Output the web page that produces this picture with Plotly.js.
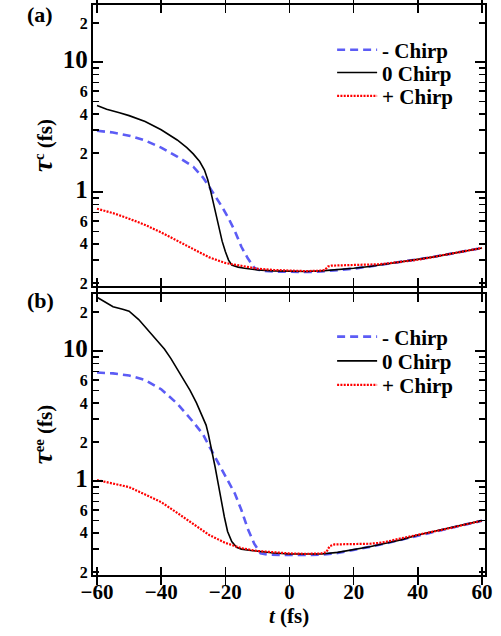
<!DOCTYPE html>
<html><head><meta charset="utf-8">
<script src="https://cdn.plot.ly/plotly-3.0.1.min.js"></script>
<style>html,body{margin:0;padding:0;background:#fff}#chart{width:501px;height:636px}</style>
</head><body><div id="chart"></div>
<script>
// ---- Panel (a): tau^c ----
const tA_neg = [-60,-55,-50,-45,-40,-35,-30,-27,-25,-23,-21,-19,-17,-15,-13,-11,-9,-5,0,5,10,15,20,25,30,35,40,45,50,55,60];
const vA_neg = [2.97,2.88,2.72,2.5,2.2,1.88,1.57,1.3,1.1,0.93,0.77,0.63,0.5,0.38,0.31,0.262,0.249,0.245,0.243,0.243,0.245,0.25,0.258,0.268,0.28,0.29,0.302,0.318,0.335,0.352,0.372];
const tA_zero = [-60,-57,-53,-50,-45,-40,-35,-32,-30,-28,-26.5,-25.5,-24.5,-23.5,-22.2,-21,-20,-19,-18,-16,-14,-10,-5,0,5,10,15,20,25,30,35,40,45,50,55,60];
const vA_zero = [4.65,4.35,4.08,3.88,3.5,3.02,2.52,2.2,1.97,1.72,1.48,1.25,1.0,0.78,0.55,0.42,0.35,0.3,0.275,0.265,0.26,0.252,0.248,0.245,0.245,0.248,0.253,0.26,0.268,0.28,0.29,0.302,0.318,0.335,0.352,0.372];
const tA_pos = [-60,-55,-50,-45,-40,-35,-30,-25,-20,-15,-10,-5,0,5,10,11,12,13,15,20,25,28,31,35,40,45,50,55,60];
const vA_pos = [0.745,0.69,0.625,0.56,0.49,0.425,0.365,0.315,0.285,0.27,0.258,0.252,0.248,0.247,0.249,0.252,0.268,0.272,0.273,0.274,0.276,0.279,0.284,0.291,0.302,0.318,0.335,0.352,0.372];

// ---- Panel (b): tau^ee ----
const tB_neg = [-60,-55,-50,-45,-40,-35,-30,-27,-25,-23,-21,-19,-17,-15,-13,-11,-9,-7,-4,0,5,10,15,20,25,30,35,40,45,50,55,60];
const vB_neg = [6.85,6.75,6.5,6.0,5.1,3.95,2.85,2.3,1.85,1.5,1.2,1.0,0.8,0.6,0.43,0.33,0.278,0.272,0.27,0.27,0.27,0.272,0.28,0.294,0.312,0.332,0.355,0.384,0.41,0.435,0.465,0.495];
const tB_zero = [-60,-57,-55,-52,-50,-47,-44,-41,-39,-37,-35,-33,-31,-29,-27.5,-26,-25.3,-24.2,-23.2,-22.2,-21.3,-20.3,-19.3,-18,-16.5,-15,-12,-9,-5,0,5,10,15,20,25,30,35,40,45,50,55,60];
const vB_zero = [26,23.5,22,21,20.3,17.5,14.3,11.8,10.4,8.8,7.3,6.1,5.0,4.0,3.3,2.7,2.3,1.75,1.29,0.95,0.7,0.53,0.41,0.343,0.31,0.3,0.293,0.287,0.28,0.275,0.274,0.275,0.283,0.296,0.313,0.333,0.355,0.385,0.41,0.435,0.465,0.497];
const tB_pos = [-60,-55,-50,-45,-40,-35,-30,-25,-20,-15,-10,-5,0,5,10,11.5,12.5,14,20,25,28,31,34.5,40,45,50,55,60];
const vB_pos = [1.02,0.96,0.9,0.79,0.69,0.57,0.465,0.385,0.335,0.305,0.29,0.283,0.278,0.276,0.278,0.285,0.315,0.326,0.327,0.33,0.335,0.345,0.362,0.385,0.41,0.435,0.465,0.497];

const seriesNames = ['- Chirp','0 Chirp','+ Chirp'];
const xTicks = [-60,-40,-20,0,20,40,60];
const yLabelVals = [0.2,0.4,0.6,1,2,4,6,10,20];
const yLabelText = ['2','4','6','1','2','4','6','10','2'];
const yBigLabels = ['1','10'];
const yMinorVals = [0.3,0.5,0.7,0.8,0.9,3,5,7,8,9];
const yDecadeVals = [1,10];

const FONT = 'Liberation Serif';
const blueLine = {color:'#5c5cf5', width:2.6, dash:'8px,5px'};
const blackLine = {color:'#000000', width:1.6};
const redLine = {color:'#ff0000', width:2.2, dash:'2px,1.3px'};

const ticktextStyled = yLabelText.map(s => yBigLabels.includes(s) ? '<span style="font-size:25px">'+s+'</span>' : s);

function tr(x,y,name,line,xa,ya,leg){
  return {x:x,y:y,name:name,mode:'lines',line:line,xaxis:xa,yaxis:ya,legend:leg,type:'scatter'};
}
const data = [
  tr(tA_neg,vA_neg,seriesNames[0],blueLine,'x2','y2','legend'),
  tr(tA_zero,vA_zero,seriesNames[1],blackLine,'x2','y2','legend2'),
  tr(tA_pos,vA_pos,seriesNames[2],redLine,'x2','y2','legend3'),
  tr(tB_neg,vB_neg,seriesNames[0],blueLine,'x','y','legend4'),
  tr(tB_zero,vB_zero,seriesNames[1],blackLine,'x','y','legend5'),
  tr(tB_pos,vB_pos,seriesNames[2],redLine,'x','y','legend6'),
  // empty carriers so the long decade ticks (overlay axes) are drawn
  {x:[],y:[],xaxis:'x',yaxis:'y3',showlegend:false,type:'scatter',mode:'lines'},
  {x:[],y:[],xaxis:'x2',yaxis:'y4',showlegend:false,type:'scatter',mode:'lines'}
];

const xr = [-61.25,60.94];
const yr = [-0.722,1.44];
function xax(extra){
  return Object.assign({range:xr, tickmode:'array', tickvals:xTicks, ticks:'inside', ticklen:8, tickwidth:1.6,
    tickcolor:'#000', showline:true, linewidth:2, linecolor:'#000', mirror:'allticks', showgrid:false, zeroline:false,
    ticklabelstandoff:-3, tickfont:{family:FONT,size:21,weight:'bold',color:'#000'}}, extra);
}
function yMain(extra){
  return Object.assign({type:'log', range:yr, tickmode:'array', tickvals:yLabelVals, ticktext:ticktextStyled, ticks:'inside',
    ticklen:6, tickwidth:1.4, tickcolor:'#000', showline:true, linewidth:2, linecolor:'#000', mirror:'allticks',
    showgrid:false, zeroline:false, tickfont:{family:FONT,size:16,weight:'bold',color:'#000'},
    minor:{tickmode:'array', tickvals:yMinorVals, ticks:'inside', ticklen:6, tickwidth:1.4, tickcolor:'#000', showgrid:false}}, extra);
}
function yOver(extra){
  return Object.assign({type:'log', range:yr, tickmode:'array', tickvals:yDecadeVals, ticks:'inside', showticklabels:false,
    ticklen:10, tickwidth:1.6, tickcolor:'#000', showline:false, mirror:'allticks', showgrid:false, zeroline:false,
    side:'left'}, extra);
}
const ytitleFont = {family:FONT,size:21,weight:'bold',color:'#000'};
const legFont = {family:FONT,size:21,weight:'bold',color:'#000'};
function leg(y){ return {x:0.61, y:y, xanchor:'left', yanchor:'middle', bgcolor:'rgba(0,0,0,0)', itemwidth:40, font:legFont}; }
const layout = {
  width:501, height:636, margin:{l:93,r:16,t:5,b:61}, paper_bgcolor:'#fff', plot_bgcolor:'#fff',
  font:{family:FONT, weight:'bold', color:'#000'}, showlegend:true,
  xaxis: xax({anchor:'y', domain:[0,1], title:{text:'<i>t</i> (fs)', font:{family:FONT,size:21,weight:'bold',color:'#000'}, standoff:0}}),
  xaxis2: xax({anchor:'y2', domain:[0,1], showticklabels:false}),
  yaxis: yMain({anchor:'x', domain:[0,0.493], title:{text:'<span style="font-size:27px"><i>τ</i></span><sup>ee</sup> (fs)', font:ytitleFont, standoff:4}}),
  yaxis2: yMain({anchor:'x2', domain:[0.507,1], title:{text:'<span style="font-size:27px"><i>τ</i></span><sup>c</sup> (fs)', font:ytitleFont, standoff:4}}),
  yaxis3: yOver({anchor:'x', overlaying:'y'}),
  yaxis4: yOver({anchor:'x2', overlaying:'y2'}),
  legend: leg(0.921), legend2: leg(0.881), legend3: leg(0.840),
  legend4: leg(0.4175), legend5: leg(0.375), legend6: leg(0.333),
  annotations:[
    {text:'(a)', xref:'paper', yref:'paper', x:-0.135, y:0.984, xanchor:'center', yanchor:'middle', showarrow:false, font:{family:FONT,size:22,weight:'bold',color:'#000'}},
    {text:'(b)', xref:'paper', yref:'paper', x:-0.135, y:0.482, xanchor:'center', yanchor:'middle', showarrow:false, font:{family:FONT,size:22,weight:'bold',color:'#000'}}
  ]
};
Plotly.newPlot('chart', data, layout, {displayModeBar:false, staticPlot:true});
</script></body></html>
